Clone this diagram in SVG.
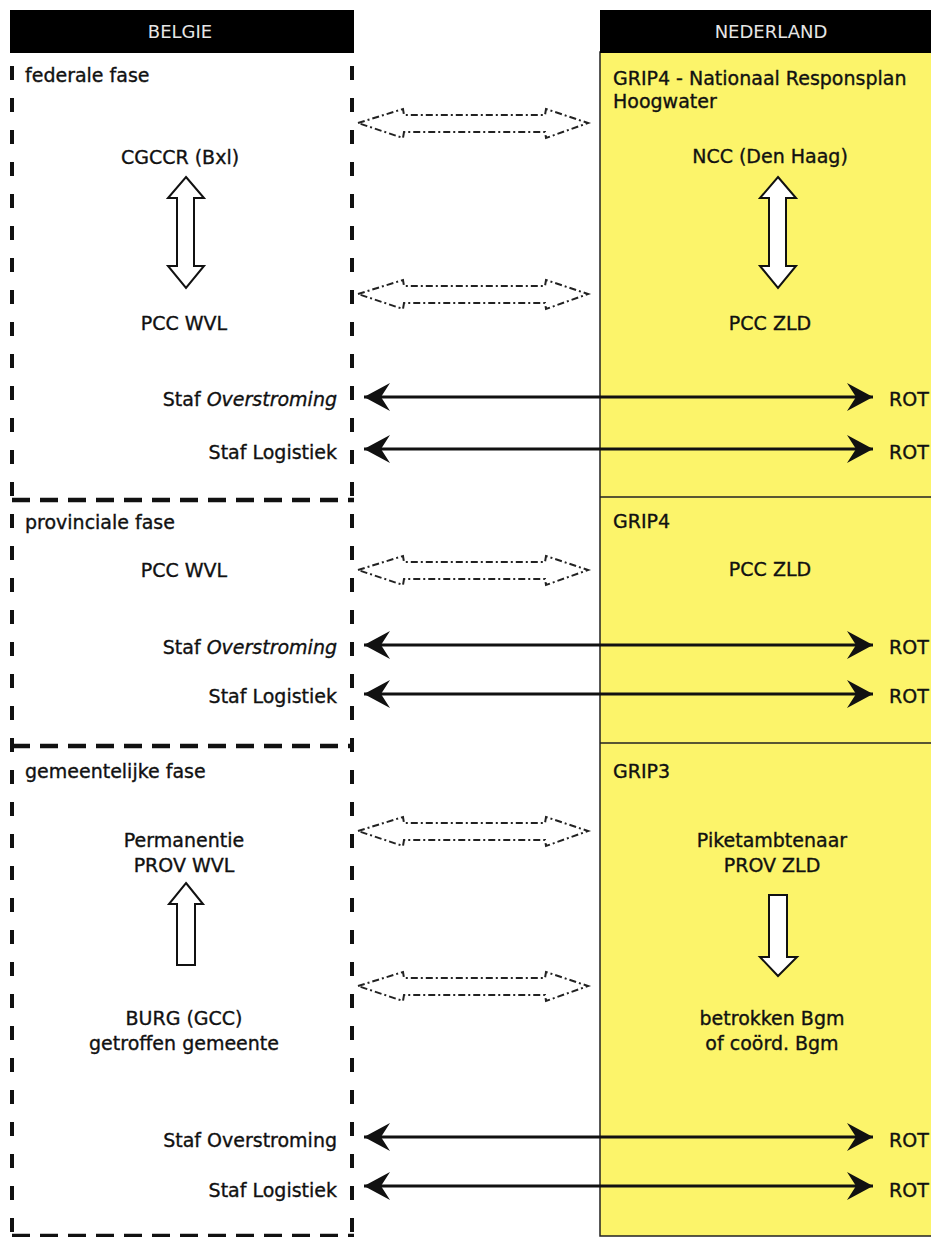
<svg xmlns="http://www.w3.org/2000/svg" width="931" height="1237" viewBox="0 0 931 1237">
  <style>
    text { font-family: "DejaVu Sans", Verdana, sans-serif; font-size: 19px; fill: #111; stroke: #111; stroke-width: 0.35; }
    .hdr { font-size: 18px; fill: #e6e6e6; stroke: none; text-anchor: middle; }
    .mid { text-anchor: middle; }
    .end { text-anchor: end; }
    .dashv { stroke: #111; stroke-width: 4; stroke-dasharray: 14 18; fill: none; }
    .dashh { stroke: #111; stroke-width: 4.5; stroke-dasharray: 18 10; fill: none; }
    .link { stroke: #111; stroke-width: 2.8; fill: none; marker-start: url(#head); marker-end: url(#head); }
    .peer { stroke: #222; stroke-width: 2; stroke-dasharray: 7 3 2 3; fill: none; }
    .flow { stroke: #111; stroke-width: 2; fill: #fff; }
  </style>
  <defs>
    <marker id="head" viewBox="-28 -16 30 32" refX="0" refY="0" markerWidth="30" markerHeight="32" markerUnits="userSpaceOnUse" orient="auto-start-reverse">
      <path d="M0,0 L-26,-14 L-17,0 L-26,14 Z" fill="#111"/>
    </marker>
  </defs>

  <rect width="931" height="1237" fill="#fff"/>

  <!-- Belgian side -->
  <g id="belgie">
    <rect x="10" y="10" width="344" height="43" fill="#000"/>
    <text class="hdr" x="180" y="38">BELGIE</text>
    <line class="dashv" x1="12" y1="66" x2="12" y2="1237"/>
    <line class="dashv" x1="352" y1="66" x2="352" y2="1237"/>
    <line class="dashh" x1="12" y1="500" x2="354" y2="500"/>
    <line class="dashh" x1="12" y1="746" x2="354" y2="746"/>
    <line class="dashh" x1="12" y1="1236" x2="354" y2="1236"/>
  </g>

  <!-- Dutch side -->
  <g id="nederland">
    <rect x="600" y="52" width="332" height="1184" fill="#fcf46a" stroke="#222" stroke-width="1.5"/>
    <rect x="600" y="10" width="331" height="43" fill="#000"/>
    <text class="hdr" x="771" y="38">NEDERLAND</text>
    <line x1="600" y1="497" x2="931" y2="497" stroke="#222" stroke-width="1.5"/>
    <line x1="600" y1="743" x2="931" y2="743" stroke="#222" stroke-width="1.5"/>
  </g>

  <!-- federal phase -->
  <g id="be-federaal">
    <text x="25" y="82">federale fase</text>
    <text class="mid" x="180" y="164">CGCCR (Bxl)</text>
    <path class="flow" d="M186,177 L204,198 L194,198 L194,266 L204,266 L186,288 L168,266 L177,266 L177,198 L168,198 Z"/>
    <text class="mid" x="184" y="330">PCC WVL</text>
    <text class="end" x="337" y="406">Staf <tspan font-style="italic">Overstroming</tspan></text>
    <text class="end" x="337" y="459">Staf Logistiek</text>
  </g>
  <g id="nl-grip4-nrh">
    <text x="613" y="85">GRIP4 - Nationaal Responsplan</text>
    <text x="613" y="108">Hoogwater</text>
    <text class="mid" x="770" y="163">NCC (Den Haag)</text>
    <path class="flow" d="M778,177 L796,198 L786,198 L786,266 L796,266 L778,288 L760,266 L769,266 L769,198 L760,198 Z"/>
    <text class="mid" x="770" y="330">PCC ZLD</text>
    <text x="889" y="406">ROT</text>
    <text x="889" y="459">ROT</text>
  </g>

  <!-- provincial phase -->
  <g id="be-provinciaal">
    <text x="25" y="529">provinciale fase</text>
    <text class="mid" x="184" y="577">PCC WVL</text>
    <text class="end" x="337" y="654">Staf <tspan font-style="italic">Overstroming</tspan></text>
    <text class="end" x="337" y="703">Staf Logistiek</text>
  </g>
  <g id="nl-grip4">
    <text x="613" y="528">GRIP4</text>
    <text class="mid" x="770" y="576">PCC ZLD</text>
    <text x="889" y="654">ROT</text>
    <text x="889" y="703">ROT</text>
  </g>

  <!-- municipal phase -->
  <g id="be-gemeentelijk">
    <text x="25" y="778">gemeentelijke fase</text>
    <text class="mid" x="184" y="847">Permanentie</text>
    <text class="mid" x="184" y="872">PROV WVL</text>
    <path class="flow" d="M186,883 L203,904 L195,904 L195,965 L177,965 L177,904 L169,904 Z"/>
    <text class="mid" x="184" y="1025">BURG (GCC)</text>
    <text class="mid" x="184" y="1050">getroffen gemeente</text>
    <text class="end" x="337" y="1147">Staf Overstroming</text>
    <text class="end" x="337" y="1197">Staf Logistiek</text>
  </g>
  <g id="nl-grip3">
    <text x="613" y="778">GRIP3</text>
    <text class="mid" x="772" y="847">Piketambtenaar</text>
    <text class="mid" x="772" y="872">PROV ZLD</text>
    <path class="flow" d="M769,895 L787,895 L787,957 L797,957 L778,976 L760,957 L769,957 Z"/>
    <text class="mid" x="772" y="1025">betrokken Bgm</text>
    <text class="mid" x="772" y="1050">of coörd. Bgm</text>
    <text x="889" y="1147">ROT</text>
    <text x="889" y="1197">ROT</text>
  </g>

  <!-- connectors -->
  <g id="connectors">
    <path class="peer" d="M358,123 L403,109 L404,115 L545,115 L546,109 L588,123 L546,138 L545,132 L404,132 L403,138 Z"/>
    <path class="peer" d="M358,294 L403,280 L404,286 L545,286 L546,280 L588,294 L546,309 L545,303 L404,303 L403,309 Z"/>
    <path class="peer" d="M358,570 L403,556 L404,562 L545,562 L546,556 L588,570 L546,585 L545,579 L404,579 L403,585 Z"/>
    <path class="peer" d="M358,831 L403,817 L404,823 L545,823 L546,817 L588,831 L546,846 L545,840 L404,840 L403,846 Z"/>
    <path class="peer" d="M358,986 L403,972 L404,978 L545,978 L546,972 L588,986 L546,1001 L545,995 L404,995 L403,1001 Z"/>
    <line class="link" x1="364" y1="397" x2="873" y2="397"/>
    <line class="link" x1="364" y1="449" x2="873" y2="449"/>
    <line class="link" x1="364" y1="645" x2="873" y2="645"/>
    <line class="link" x1="364" y1="694" x2="873" y2="694"/>
    <line class="link" x1="364" y1="1137" x2="873" y2="1137"/>
    <line class="link" x1="364" y1="1186" x2="873" y2="1186"/>
  </g>
</svg>
